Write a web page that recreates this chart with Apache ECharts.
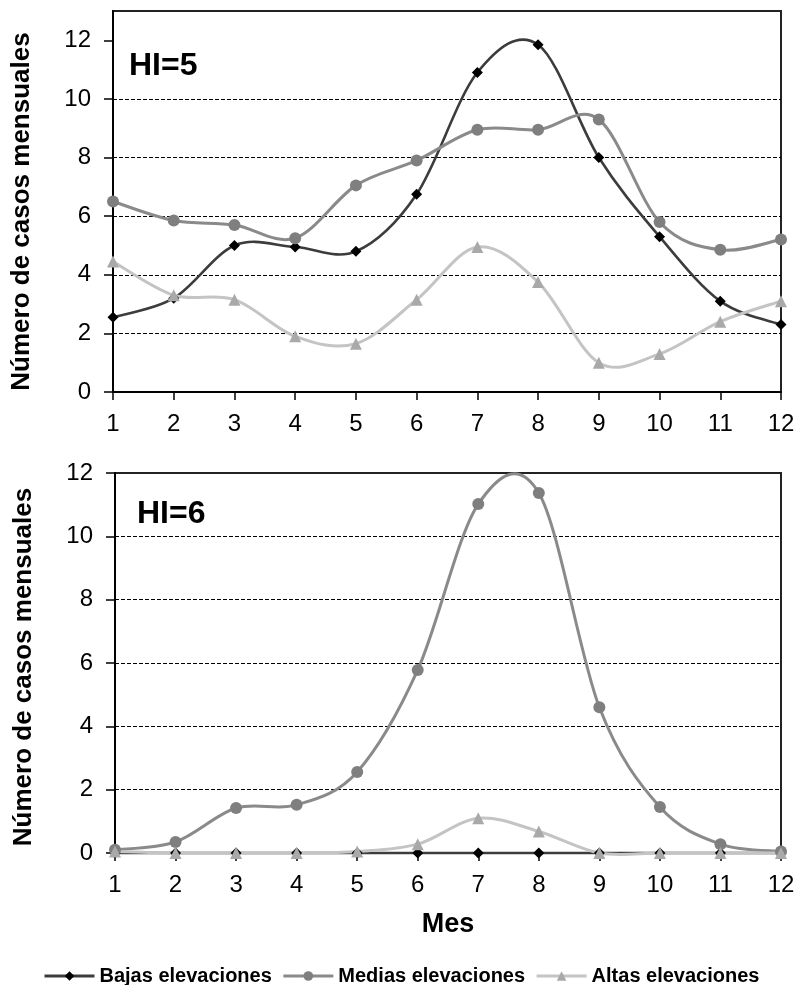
<!DOCTYPE html>
<html>
<head>
<meta charset="utf-8">
<script src="https://cdn.jsdelivr.net/npm/echarts@6/dist/echarts.min.js"></script>
<style>
  html, body { margin: 0; padding: 0; background: #fff; }
  #chart { width: 800px; height: 985px; }
</style>
</head>
<body>
<div id="chart"></div>
<script>
// Months on the horizontal axis
var months = ['1', '2', '3', '4', '5', '6', '7', '8', '9', '10', '11', '12'];

// Monthly cases, HI=5
var hi5Bajas  = [2.55, 3.2, 5.0, 4.95, 4.8, 6.75, 10.9, 11.85, 8.0, 5.3, 3.1, 2.3];
var hi5Medias = [6.5, 5.85, 5.7, 5.25, 7.05, 7.9, 8.95, 8.95, 9.3, 5.8, 4.85, 5.2];
var hi5Altas  = [4.45, 3.3, 3.15, 1.9, 1.65, 3.15, 4.95, 3.75, 1.0, 1.3, 2.4, 3.1];

// Monthly cases, HI=6
var hi6Bajas  = [0, 0, 0, 0, 0, 0, 0, 0, 0, 0, 0, 0];
var hi6Medias = [0.1, 0.35, 1.42, 1.52, 2.56, 5.78, 11.02, 11.37, 4.6, 1.45, 0.28, 0.05];
var hi6Altas  = [0.05, 0, 0, 0, 0.05, 0.28, 1.1, 0.68, 0, 0, 0, 0];

// Y tick values shown on both panels
var yTicks = [0, 2, 4, 6, 8, 10, 12];

var seriesNames = ['Bajas elevaciones', 'Medias elevaciones', 'Altas elevaciones'];

var FONT = '"Liberation Sans", Arial, sans-serif';

var styles = [
  { line: '#3c3c3c', mark: '#000000', symbol: 'diamond',  size: 11, width: 2.6 },
  { line: '#8a8a8a', mark: '#7f7f7f', symbol: 'circle',   size: 12, width: 3 },
  { line: '#c4c4c4', mark: '#a9a9a9', symbol: 'triangle', size: 12, width: 3 }
];

function pairs(vals) {
  return vals.map(function (v, i) { return [i, v]; });
}

// Smoothed curve: one cubic Bezier per segment, control points from the
// neighbouring data points (Catmull-Rom style), mapped through the axes.
function makeCurve(data, idx, st) {
  var n = data.length;
  return {
    type: 'custom',
    xAxisIndex: idx,
    yAxisIndex: idx,
    data: pairs(data),
    encode: { x: 0, y: 1 },
    silent: true,
    z: 2,
    renderItem: function (params, api) {
      var i = params.dataIndexInside;
      if (i >= n - 1) return null;
      function pt(k) {
        k = Math.max(0, Math.min(n - 1, k));
        return api.coord([api.value(0, k), api.value(1, k)]);
      }
      var p0 = pt(i - 1), p1 = pt(i), p2 = pt(i + 1), p3 = pt(i + 2);
      return {
        type: 'bezierCurve',
        shape: {
          x1: p1[0], y1: p1[1],
          x2: p2[0], y2: p2[1],
          cpx1: p1[0] + (p2[0] - p0[0]) / 6, cpy1: p1[1] + (p2[1] - p0[1]) / 6,
          cpx2: p2[0] - (p3[0] - p1[0]) / 6, cpy2: p2[1] - (p3[1] - p1[1]) / 6
        },
        style: { stroke: st.line, lineWidth: st.width, fill: null, lineCap: 'round' }
      };
    },
    animation: false
  };
}

// Markers only; the curve is drawn by makeCurve
function makeMarks(name, data, idx, st) {
  return {
    name: name,
    type: 'line',
    xAxisIndex: idx,
    yAxisIndex: idx,
    data: data,
    symbol: st.symbol,
    symbolSize: st.size,
    showAllSymbol: true,
    z: 3,
    lineStyle: { color: st.line, width: 0, opacity: 0 },
    itemStyle: { color: st.mark },
    emphasis: { disabled: true },
    animation: false
  };
}

function makeXAxis(idx, withName) {
  var ax = {
    type: 'category',
    gridIndex: idx,
    data: months,
    boundaryGap: false,
    axisLine: { lineStyle: { color: '#000', width: 2 } },
    axisTick: { show: true, length: 8, lineStyle: { color: '#000', width: 1.5 } },
    axisLabel: { color: '#000', fontFamily: FONT, fontSize: 24, margin: 20 },
    splitLine: { show: false }
  };
  if (withName) {
    ax.name = 'Mes';
    ax.nameLocation = 'middle';
    ax.nameGap = 58;
    ax.nameTextStyle = { color: '#000', fontFamily: FONT, fontSize: 27, fontWeight: 'bold' };
  }
  return ax;
}

function makeYAxis(idx, max, shift) {
  return {
    type: 'value',
    gridIndex: idx,
    min: 0,
    max: max,
    interval: 2,
    name: 'Número de casos mensuales',
    nameLocation: 'middle',
    nameGap: 78,
    nameTextStyle: {
      color: '#000', fontFamily: FONT, fontSize: 26, fontWeight: 'bold',
      padding: [0, shift, 0, 0]
    },
    axisLine: { show: true, lineStyle: { color: '#000', width: 2 } },
    axisTick: { show: true, length: 9, customValues: yTicks, lineStyle: { color: '#000', width: 1.5 } },
    axisLabel: {
      color: '#000', fontFamily: FONT, fontSize: 24, margin: 22,
      customValues: yTicks
    },
    splitLine: {
      show: true, showMinLine: false, showMaxLine: false,
      lineStyle: { color: '#000', width: 1, type: [4, 2] }
    }
  };
}

var chart = echarts.init(document.getElementById('chart'), null, { renderer: 'canvas' });

var legendData = seriesNames.map(function (nm, k) {
  return {
    name: nm,
    lineStyle: { color: styles[k].line, width: 3, opacity: 1 },
    itemStyle: { color: styles[k].mark }
  };
});

var option = {
  backgroundColor: '#ffffff',
  animation: false,
  title: [
    { text: 'HI=5', left: 124, top: 45, textStyle: { fontFamily: FONT, fontSize: 32, fontWeight: 'bold', color: '#000' } },
    { text: 'HI=6', left: 132, top: 493, textStyle: { fontFamily: FONT, fontSize: 32, fontWeight: 'bold', color: '#000' } }
  ],
  legend: {
    data: legendData,
    left: 38,
    top: 961,
    itemWidth: 50,
    itemHeight: 12,
    itemGap: 10,
    textStyle: { fontFamily: FONT, fontSize: 20, fontWeight: 'bold', color: '#000' },
    selectedMode: false
  },
  grid: [
    { left: 113, right: 19, top: 11, height: 381, show: true, borderColor: '#222', borderWidth: 2, backgroundColor: 'transparent' },
    { left: 115, right: 19, top: 473, height: 380, show: true, borderColor: '#222', borderWidth: 2, backgroundColor: 'transparent' }
  ],
  xAxis: [makeXAxis(0, false), makeXAxis(1, true)],
  yAxis: [makeYAxis(0, 13, 20), makeYAxis(1, 12, 8)],
  series: [
    makeCurve(hi5Bajas, 0, styles[0]),
    makeCurve(hi5Medias, 0, styles[1]),
    makeCurve(hi5Altas, 0, styles[2]),
    makeCurve(hi6Bajas, 1, styles[0]),
    makeCurve(hi6Medias, 1, styles[1]),
    makeCurve(hi6Altas, 1, styles[2]),
    makeMarks(seriesNames[0], hi5Bajas, 0, styles[0]),
    makeMarks(seriesNames[1], hi5Medias, 0, styles[1]),
    makeMarks(seriesNames[2], hi5Altas, 0, styles[2]),
    makeMarks(seriesNames[0], hi6Bajas, 1, styles[0]),
    makeMarks(seriesNames[1], hi6Medias, 1, styles[1]),
    makeMarks(seriesNames[2], hi6Altas, 1, styles[2])
  ]
};

chart.setOption(option);
</script>
</body>
</html>
